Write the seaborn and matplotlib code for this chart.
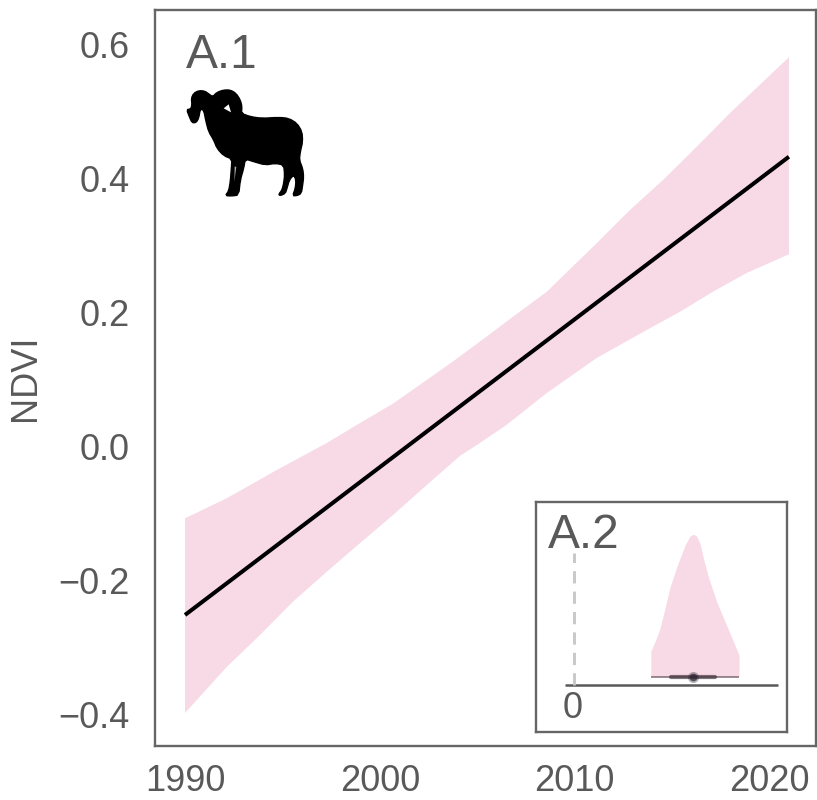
import numpy as np
import pandas as pd
import matplotlib
matplotlib.use("Agg")
import matplotlib.pyplot as plt
from matplotlib.patches import Polygon
import seaborn as sns

# ---------- data ----------
line_years = [1990, 2021]
line_ndvi = [-0.252, 0.433]

upper_years = [1990, 1992.14, 1994.71, 1997.28, 1998.99, 2000.68, 2002.41, 2003.76, 2005.13,
               2006.84, 2008.57, 2011.13, 2012.84, 2014.54, 2016.27, 2017.98, 2019.67, 2021]
upper_ndvi = [-0.1075, -0.0776, -0.0353, 0.0051, 0.035, 0.0640, 0.0993, 0.127, 0.1565,
              0.1939, 0.2312, 0.3036, 0.3534, 0.3982, 0.448, 0.4984, 0.5451, 0.5816]
lower_years = [1990, 1992.14, 1993.85, 1995.54, 1997.28, 1998.99, 2000.68, 2002.41, 2004.12,
               2005.13, 2006.5, 2008.57, 2011.13, 2013.7, 2015.41, 2017.1, 2018.83, 2021]
lower_ndvi = [-0.3985, -0.3297, -0.2819, -0.2321, -0.1873, -0.1444, -0.1025, -0.0577, -0.0140,
              0.0050, 0.0320, 0.0798, 0.1321, 0.174, 0.2013, 0.2312, 0.2592, 0.2871]

x_ticks = [1990, 2000, 2010, 2020]
y_ticks = [-0.4, -0.2, 0.0, 0.2, 0.4, 0.6]

slope_grid = [0.0142, 0.01497, 0.01590, 0.01683, 0.01778, 0.01902, 0.02056, 0.02149, 0.02211,
              0.02272, 0.02334, 0.02396, 0.02489, 0.02643, 0.0289, 0.03057]
slope_density = [0.18, 0.245, 0.339, 0.479, 0.631, 0.771, 0.923, 0.988, 1.0,
                 0.986, 0.935, 0.83, 0.70, 0.526, 0.304, 0.152]
slope_median = 0.02211
slope_inner = [0.0179, 0.0261]
slope_outer = [0.0142, 0.03057]

# sheep silhouette outline (icon, in pixels of a 3x crop)
sheep_xy = [(14,74),(26,72),(30,60),(28,40),(35,25),(50,17),(68,18),(82,28),(92,35),(105,22),
            (125,15),(145,15),(162,25),(175,45),(180,65),(178,85),(205,95),(240,100),(290,97),
            (320,100),(345,115),(360,140),(362,170),(355,200),(352,225),(362,250),(365,275),
            (362,300),(358,325),(345,332),(332,332),(340,310),(342,285),(335,270),(322,285),
            (315,310),(310,325),(295,332),(290,328),(300,315),(305,295),(308,270),(305,240),
            (280,235),(250,240),(215,230),(190,222),(185,250),(175,285),(170,330),(150,333),
            (130,332),(140,318),(145,290),(148,250),(150,222),(125,212),(105,190),(95,165),
            (80,140),(72,110),(65,75),(55,72),(50,100),(42,113),(30,113),(22,95)]
sheep_eye = [(125,70),(140,58),(147,82)]
sheep_slit = [(158,245),(163,245),(157,290)]

# ---------- style ----------
W, H = 817, 800
PINK = "#F7DAE5"
TXT = "#595959"
SPINE = "#666666"
TICK_SIZE = 26

sns.set_style("white")
plt.rcParams["font.family"] = ["Liberation Sans", "DejaVu Sans"]

fig = plt.figure(figsize=(W / 100, H / 100), dpi=100)

def box(l, t, r, b):
    return [l / W, 1 - b / H, (r - l) / W, (b - t) / H]

ax = fig.add_axes(box(155, 10, 816, 746))
ax.fill(list(upper_years) + list(lower_years[::-1]),
        list(upper_ndvi) + list(lower_ndvi[::-1]), color=PINK, lw=0)
sns.lineplot(data=pd.DataFrame({"year": line_years, "NDVI": line_ndvi}), x="year", y="NDVI",
             color="black", lw=2.9, solid_capstyle="butt", ax=ax)
ax.set_xlim(1988.46, 2022.39)
ax.set_ylim((446.4 - 746) / 669, (446.4 - 10) / 669)
ax.set_xticks(x_ticks)
ax.set_yticks(y_ticks)
ax.set_yticklabels(["\u22120.4", "\u22120.2", "0.0", "0.2", "0.4", "0.6"])
ax.tick_params(axis="both", length=0, labelsize=TICK_SIZE, labelcolor=TXT)
ax.tick_params(axis="x", pad=13)
ax.tick_params(axis="y", pad=18)
ax.set_xlabel("")
ax.set_ylabel("NDVI", fontsize=TICK_SIZE, color=TXT)
ax.yaxis.set_label_coords(-0.169, 0.5)
for s in ax.spines.values():
    s.set_color(SPINE)
    s.set_linewidth(1.7)
ax.text(186 / W, 1 - 68 / H, "A.1", transform=fig.transFigure, fontsize=34.5, color=TXT, va="baseline", ha="left")

# sheep icon
def smooth(pts, n=1):
    p = np.array(pts, dtype=float)
    for _ in range(n):
        q = np.roll(p, -1, axis=0)
        p = np.column_stack([0.75 * p + 0.25 * q, 0.25 * p + 0.75 * q]).reshape(-1, 2)
    return p

def to_fig(pts):
    return [((182 + x / 3) / W, 1 - (85 + y / 3) / H) for x, y in pts]

fig.add_artist(Polygon(to_fig(smooth(sheep_xy)), closed=True, transform=fig.transFigure, fc="black", ec="black", lw=1.0, zorder=5))
fig.add_artist(Polygon(to_fig(sheep_eye), closed=True, transform=fig.transFigure, fc="white", ec="none", zorder=6))
fig.add_artist(Polygon(to_fig(sheep_slit), closed=True, transform=fig.transFigure, fc="#aaaaaa", ec="none", zorder=6))

# inset
ins = fig.add_axes(box(535.5, 502, 786.5, 731.5))
ins.fill_between(slope_grid, 0, slope_density, color=PINK, lw=0)
ins.set_xlim(-0.00722, 0.0394)
ins.set_ylim(-0.385, 1.226)
ins.plot([(564.3 - 574) / 5398, (778 - 574) / 5398], [-0.058, -0.058], color=TXT, lw=1.8, solid_capstyle="butt")
ins.plot([0, 0], [-0.058, 0.867], color="#c8c8c8", lw=2.1, dashes=(4.2, 2.8))
ins.plot(slope_outer, [0, 0], color="#3a2a35", alpha=0.6, lw=1.2, solid_capstyle="butt")
ins.plot(slope_inner, [0, 0], color="#3a2a35", alpha=0.65, lw=3, solid_capstyle="round")
ins.plot([slope_median], [0], "o", color="#2e2430", alpha=0.35, ms=8, mew=0)
ins.plot([slope_median], [0], "o", color="#2e2430", alpha=0.7, ms=5.5, mew=0)
ins.set_xticks([])
ins.set_yticks([])
for s in ins.spines.values():
    s.set_color(SPINE)
    s.set_linewidth(1.7)
ins.text(573 / W, 1 - 718 / H, "0", transform=fig.transFigure, fontsize=TICK_SIZE, color=TXT, ha="center", va="baseline")
ins.text(548 / W, 1 - 548 / H, "A.2", transform=fig.transFigure, fontsize=34.5, color=TXT, ha="left", va="baseline")

fig.savefig("out.png", dpi=100)
